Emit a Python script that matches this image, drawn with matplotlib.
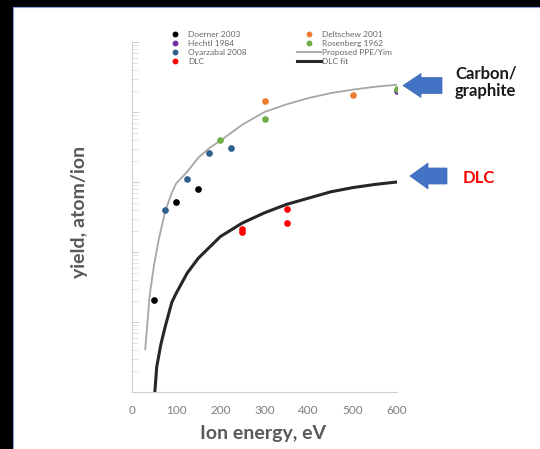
import matplotlib
matplotlib.use('Agg')
import matplotlib.pyplot as plt
from matplotlib.lines import Line2D
from matplotlib.patches import Polygon, Rectangle
from matplotlib.transforms import Affine2D
from matplotlib.ticker import NullFormatter, LogLocator, FixedLocator

plt.rcParams['font.family'] = ['Lato', 'DejaVu Sans']

# ---------------- data ----------------
doerner_x = [50, 100, 150]
doerner_y = [0.00206, 0.0513, 0.0802]
hechtl_x = [600]
hechtl_y = [2.0]
oyarzabal_x = [75, 125, 175, 225]
oyarzabal_y = [0.0402, 0.111, 0.257, 0.303]
dlc_x = [250, 250, 350, 350]
dlc_y = [0.0213, 0.0191, 0.0411, 0.0257]
deltschew_x = [300, 500]
deltschew_y = [1.42, 1.73]
rosenberg_x = [200, 300, 600]
rosenberg_y = [0.402, 0.80, 2.11]

ppe_x = [30, 40, 50, 60, 75, 90, 100, 125, 150, 175, 200, 250, 300, 350, 400, 450, 500, 550, 600]
ppe_y = [0.000407, 0.0024, 0.0066, 0.0145, 0.038, 0.07, 0.0955, 0.14, 0.222, 0.305, 0.389,
         0.661, 1.0, 1.288, 1.585, 1.862, 2.089, 2.291, 2.455]
dlcfit_x = [50, 56, 65, 75, 90, 100, 125, 150, 200, 250, 300, 350, 400, 450, 500, 550, 600]
dlcfit_y = [7.24e-5, 2.29e-4, 4.68e-4, 8.51e-4, 1.9e-3, 2.57e-3, 5.0e-3, 8.13e-3, 0.0166,
            0.026, 0.0363, 0.0479, 0.0589, 0.0724, 0.0832, 0.0923, 0.1]

x_ticks = [0, 100, 200, 300, 400, 500, 600]

# ---------------- figure ----------------
W, H = 540, 449
fig = plt.figure(figsize=(W / 100, H / 100), dpi=100)
fig.patch.set_facecolor('black')
px = Affine2D().scale(1 / W, -1 / H).translate(0, 1) + fig.transFigure
fig.patches.append(Rectangle((13, 7), 530, 445, transform=px, facecolor='white',
                             edgecolor='#8f9fd8', lw=0.8, zorder=-10))

ax = fig.add_axes([132 / W, 1 - 392 / H, 265 / W, 350 / H])
ax.set_facecolor('none')
ax.set_yscale('log')
ax.set_xlim(0, 600)
ax.set_ylim(1e-4, 10)

ax.plot(ppe_x, ppe_y, color='#a6a6a6', lw=1.3, label='Proposed PPE/Yim', zorder=2)
ax.plot(dlcfit_x, dlcfit_y, color='#262626', lw=2.2, label='DLC fit', zorder=2)

ms = 3.8
ax.plot(doerner_x, doerner_y, 'o', color='#000000', ms=ms, label='Doerner 2003', zorder=3)
ax.plot(hechtl_x, hechtl_y, 'o', color='#7030a0', ms=ms, label='Hechtl 1984', zorder=3)
ax.plot(oyarzabal_x, oyarzabal_y, 'o', color='#2f5f8f', ms=ms, label='Oyarzabal 2008', zorder=3)
ax.plot(dlc_x, dlc_y, 'o', color='#ff0000', ms=ms, label='DLC', zorder=3)
ax.plot(deltschew_x, deltschew_y, 'o', color='#ed7d31', ms=ms, label='Deltschew 2001', zorder=3)
ax.plot(rosenberg_x, rosenberg_y, 'o', color='#70ad47', ms=ms, label='Rosenberg 1962', zorder=4)

for s in ['top', 'right']:
    ax.spines[s].set_visible(False)
for s in ['left', 'bottom']:
    ax.spines[s].set_color('#d0d0d0')
    ax.spines[s].set_linewidth(0.8)

ax.xaxis.set_major_locator(FixedLocator(x_ticks))
ax.tick_params(axis='x', length=0, pad=9, labelsize=8.5, labelcolor='#7f7f7f')
ax.yaxis.set_major_locator(LogLocator(base=10, numticks=10))
ax.yaxis.set_minor_locator(LogLocator(base=10, subs=range(2, 10), numticks=20))
ax.yaxis.set_major_formatter(NullFormatter())
ax.yaxis.set_minor_formatter(NullFormatter())
ax.tick_params(axis='y', which='major', direction='in', length=5, width=0.6, color='#c8c8c8')
ax.tick_params(axis='y', which='minor', direction='in', length=4, width=0.5, color='#d4d4d4')

fig.text(263 / W, 1 - 433 / H, 'Ion energy, eV', ha='center', va='center',
         fontsize=14, fontweight='bold', color='#595959')
fig.text(80 / W, 1 - 212 / H, 'yield, atom/ion', ha='center', va='center', rotation=90,
         fontsize=14, fontweight='bold', color='#595959')

# legend
h = {l.get_label(): l for l in ax.get_lines()}
order = ['Doerner 2003', 'Hechtl 1984', 'Oyarzabal 2008', 'DLC',
         'Deltschew 2001', 'Rosenberg 1962', 'Proposed PPE/Yim', 'DLC fit']
handles = []
for k in order:
    ln = h[k]
    if ln.get_linestyle() == 'None':
        handles.append(Line2D([], [], ls='None', marker='o', ms=3.2, color=ln.get_color()))
    else:
        handles.append(Line2D([], [], color=ln.get_color(), lw=ln.get_linewidth()))
leg = fig.legend(handles, order, loc='upper left', bbox_to_anchor=(163 / W, 1 - 31 / H),
                 ncol=2, frameon=False, fontsize=6, handlelength=2.9, handletextpad=0.15,
                 labelspacing=0.25, columnspacing=6.0, borderpad=0, borderaxespad=0)
for t in leg.get_texts():
    t.set_color('#666666')

# arrows
blue = '#4472c4'
def arrow(tip_x, cy, head_x, back_x, head_half, body_half):
    pts = [(tip_x, cy), (head_x, cy - head_half), (head_x, cy - body_half),
           (back_x, cy - body_half), (back_x, cy + body_half), (head_x, cy + body_half),
           (head_x, cy + head_half)]
    fig.patches.append(Polygon(pts, closed=True, transform=px, facecolor=blue,
                               edgecolor='#3a65b0', lw=0.5))

arrow(403, 85.5, 421, 442, 12, 8)
arrow(410, 176, 428, 447, 13, 8)

fig.text(455 / W, 1 - 82 / H, 'Carbon/\ngraphite', ha='left', va='center', fontsize=12,
         fontweight='bold', color='#1a1a1a', linespacing=1.15)
fig.text(463 / W, 1 - 178 / H, 'DLC', ha='left', va='center', fontsize=12,
         fontweight='bold', color='#ff0000')

fig.savefig('out.png', dpi=100, facecolor=fig.get_facecolor())
